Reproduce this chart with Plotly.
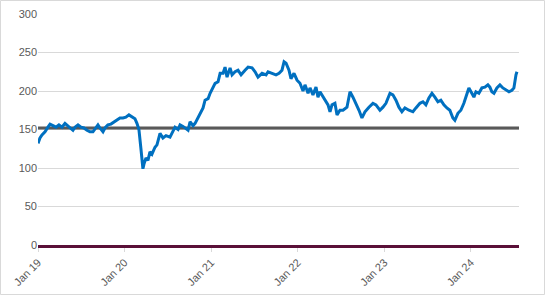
import pandas as pd
import plotly.graph_objects as go

# Dates as decimal years
years = [2019.000, 2019.023, 2019.046, 2019.081, 2019.115, 2019.139, 2019.173, 2019.208, 2019.242, 2019.277,
         2019.312, 2019.335, 2019.370, 2019.404, 2019.427, 2019.462, 2019.497, 2019.531, 2019.566, 2019.600,
         2019.635, 2019.670, 2019.693, 2019.716, 2019.751, 2019.774, 2019.808, 2019.843, 2019.878, 2019.912,
         2019.947, 2019.982, 2020.016, 2020.051, 2020.085, 2020.120, 2020.143, 2020.166, 2020.189, 2020.201,
         2020.212, 2020.224, 2020.247, 2020.270, 2020.293, 2020.316, 2020.351, 2020.374, 2020.409, 2020.443,
         2020.478, 2020.524, 2020.559, 2020.582, 2020.617, 2020.640, 2020.674, 2020.697, 2020.732, 2020.755,
         2020.790, 2020.813, 2020.848, 2020.871, 2020.905, 2020.928, 2020.963, 2020.986, 2021.021, 2021.044,
         2021.078, 2021.102, 2021.136, 2021.159, 2021.182, 2021.217, 2021.240, 2021.275, 2021.309, 2021.344,
         2021.390, 2021.425, 2021.471, 2021.506, 2021.540, 2021.587, 2021.633, 2021.656, 2021.702, 2021.748,
         2021.783, 2021.817, 2021.841, 2021.864, 2021.898, 2021.921, 2021.956, 2021.991, 2022.025, 2022.060,
         2022.083, 2022.118, 2022.141, 2022.175, 2022.210, 2022.233, 2022.256, 2022.279, 2022.314, 2022.349,
         2022.372, 2022.395, 2022.429, 2022.453, 2022.487, 2022.522, 2022.568, 2022.603, 2022.637, 2022.672,
         2022.707, 2022.741, 2022.776, 2022.822, 2022.868, 2022.903, 2022.949, 2022.984, 2023.018, 2023.065,
         2023.099, 2023.134, 2023.168, 2023.203, 2023.238, 2023.284, 2023.330, 2023.365, 2023.411, 2023.446,
         2023.480, 2023.515, 2023.550, 2023.584, 2023.619, 2023.653, 2023.688, 2023.723, 2023.757, 2023.792,
         2023.815, 2023.850, 2023.884, 2023.919, 2023.954, 2023.977, 2024.011, 2024.035, 2024.058, 2024.092,
         2024.127, 2024.162, 2024.196, 2024.219, 2024.242, 2024.266, 2024.300, 2024.335, 2024.369, 2024.404,
         2024.439, 2024.473, 2024.496, 2024.520, 2024.531]
values = [132, 139, 143, 147, 153, 157, 155, 153, 156, 153,
          158, 156, 152, 149, 153, 156, 153, 152, 149, 147,
          147, 153, 156, 152, 147, 152, 156, 157, 160, 162,
          165, 165, 166, 169, 166, 164, 158, 150, 125, 114,
          99, 105, 113, 110, 121, 118, 127, 130, 145, 139,
          142, 140, 148, 153, 150, 156, 154, 152, 149, 160,
          155, 158, 166, 171, 178, 188, 190, 197, 205, 210,
          212, 223, 223, 231, 218, 230, 221, 225, 227, 221,
          227, 231, 230, 225, 218, 223, 221, 225, 223, 221,
          223, 227, 238, 236, 227, 216, 223, 214, 210, 200,
          208, 197, 204, 195, 205, 192, 199, 195, 188, 182,
          173, 182, 184, 169, 175, 175, 179, 199, 192, 184,
          175, 165, 173, 179, 184, 182, 175, 179, 184, 197,
          195, 188, 179, 173, 178, 175, 173, 178, 184, 186,
          182, 191, 197, 192, 186, 188, 182, 178, 175, 165,
          162, 171, 175, 184, 197, 204, 197, 192, 199, 197,
          204, 205, 208, 205, 199, 197, 204, 208, 204, 201,
          199, 201, 204, 221, 225]
average_value = 152
tick_dates = ["2019-01-01", "2020-01-01", "2021-01-01", "2022-01-01", "2023-01-01", "2024-01-01"]
tick_labels = ["Jan 19", "Jan 20", "Jan 21", "Jan 22", "Jan 23", "Jan 24"]
x_start, x_end = "2019-01-01", "2024-07-22"


def to_date(y):
    yr = int(y)
    start = pd.Timestamp(year=yr, month=1, day=1)
    end = pd.Timestamp(year=yr + 1, month=1, day=1)
    return start + (end - start) * (y - yr)


dates = [to_date(y) for y in years]

fig = go.Figure()
fig.add_trace(go.Scatter(x=[x_start, x_end], y=[average_value, average_value], mode="lines",
                         line=dict(color="#595959", width=3), hoverinfo="skip", showlegend=False))
fig.add_trace(go.Scatter(x=dates, y=values, mode="lines",
                         line=dict(color="#0070c0", width=3), showlegend=False))

fig.update_layout(
    width=545, height=295,
    margin=dict(l=38, r=26, t=14, b=50, autoexpand=False),
    paper_bgcolor="white", plot_bgcolor="white",
    font=dict(family="Liberation Sans, Arial, sans-serif", size=11, color="#595959"),
    xaxis=dict(range=[x_start, x_end], tickvals=tick_dates, ticktext=tick_labels,
               tickangle=-45, showgrid=False, zeroline=False, automargin=False,
               showline=True, linecolor="#5a1038", linewidth=2.5,
               ticks="outside", ticklen=4, tickcolor="#d9d9d9",
               tickfont=dict(size=11, color="#595959")),
    yaxis=dict(range=[0, 300], dtick=50, showgrid=True, gridcolor="#d9d9d9", gridwidth=1,
               zeroline=False, showline=False, ticks="", ticklen=0, automargin=False,
               tickfont=dict(size=11, color="#595959")),
    shapes=[dict(type="rect", xref="paper", yref="paper",
                 x0=(0.5 - 38) / 481, x1=(544.5 - 38) / 481,
                 y0=(245 - 294.5) / 231, y1=(245 - 0.5) / 231,
                 line=dict(color="#d9d9d9", width=1), fillcolor="rgba(0,0,0,0)", layer="below")],
)

fig.write_html("out.html")
